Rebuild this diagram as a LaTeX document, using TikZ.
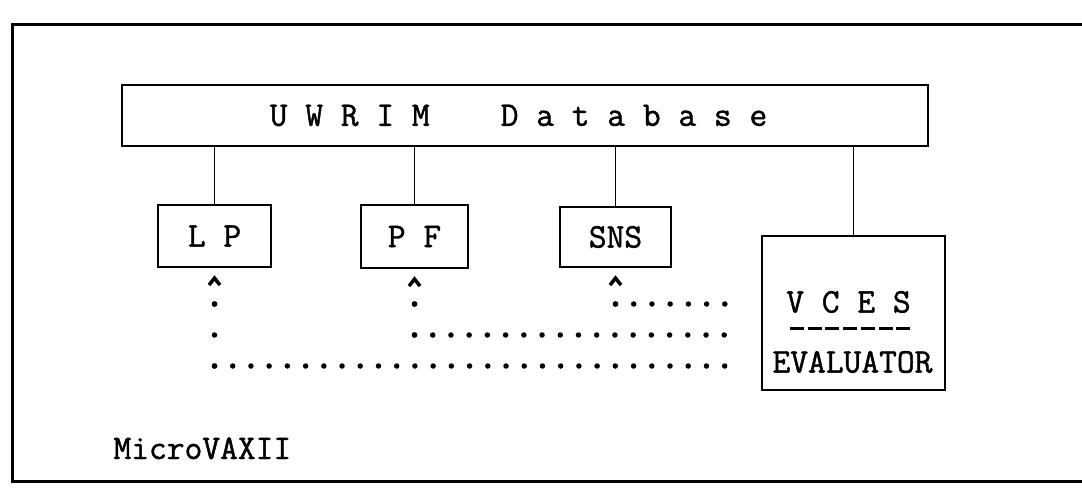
\documentclass[tikz,border=0pt]{standalone}
\usepackage{fontspec}
\newfontface\typew{Latin Modern Mono}[FakeBold=1.3]
\usetikzlibrary{arrows.meta}
\begin{document}
\begin{tikzpicture}[x=1pt,y=-1pt,
  font=\typew\fontsize{34.5}{40}\selectfont,
  box/.style={draw, line width=2.5pt, inner sep=0pt},
  frameline/.style={line width=3pt},
  link/.style={line width=1.5pt},
  hdots/.style={line width=5.5pt, line cap=round, dash pattern=on 0pt off 18.22pt},
  vdots/.style={line width=5.5pt, line cap=round, dash pattern=on 0pt off 31pt},
  caret/.style={line width=5.5pt, line cap=round, dash pattern=on 0pt off 100pt,
    -{Straight Barb[length=7pt,width=11pt,line width=3.5pt]}, shorten >=7pt},
  sepdash/.style={line width=3pt, dash pattern=on 14pt off 3.7pt}]
\useasboundingbox (0,0) rectangle (1082,489);
% outer frame
\draw[frameline] (1082,25) -- (12,25) -- (12,481) -- (1082,481);
% nodes
\node[box, minimum width=806pt, minimum height=61pt] (db) at (525,115.5) {U W R I M\ \ \ \ D a t a b a s e\hspace*{13pt}};
\node[box, minimum width=113pt, minimum height=62pt] (lp) at (214.5,236) {L P};
\node[box, minimum width=107pt, minimum height=63pt] (pf) at (414.5,236.5) {P F};
\node[box, minimum width=111pt, minimum height=60pt] (sns) at (615.5,237) {SNS};
\node[box, minimum width=183pt, minimum height=154pt] (vces) at (853.5,313) {};
\node (vcestitle) at (848.5,302) {V C E S};
\node (vceseval) at (852.5,362) {EVALUATOR};
\draw[sepdash] (790,328) -- (913,328);
\node[anchor=base west] (mv) at (110,459) {MicroVAXII};
% links to database
\draw[link] (db.south -| lp.north) -- (lp.north);
\draw[link] (db.south -| pf.north) -- (pf.north);
\draw[link] (db.south -| sns.north) -- (sns.north);
\draw[link] (db.south -| vces.north) -- (vces.north);
% dotted feedback connectors
\coordinate (r1) at (0,304);
\coordinate (r2) at (0,335);
\coordinate (r3) at (0,366);
\coordinate (vend) at ([xshift=-18.7pt]vces.west);
\draw[hdots] (lp.south |- r3) -- (vend |- r3);
\draw[vdots] (lp.south |- r3) -- (lp.south |- r1);
\draw[caret] (lp.south |- r1) -- (lp.south);
\draw[hdots] (pf.south |- r2) -- (vend |- r2);
\draw[vdots] (pf.south |- r2) -- (pf.south |- r1);
\draw[caret] (pf.south |- r1) -- (pf.south);
\draw[hdots] (sns.south |- r1) -- (vend |- r1);
\draw[caret] (sns.south |- r1) -- (sns.south);
\end{tikzpicture}
\end{document}
